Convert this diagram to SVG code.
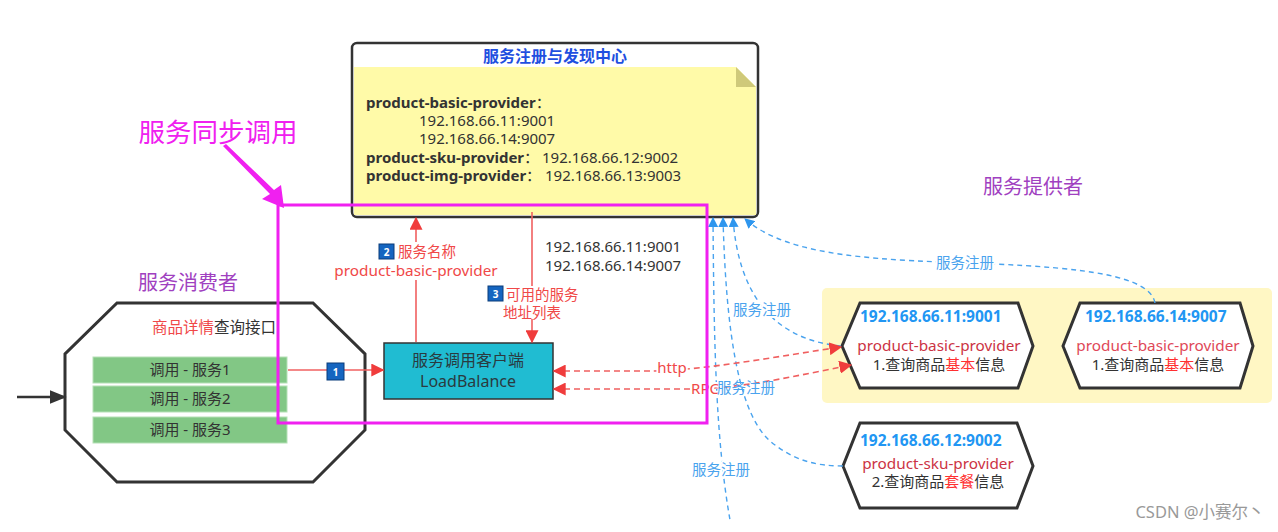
<svg xmlns="http://www.w3.org/2000/svg" width="1278" height="532" viewBox="0 0 1278 532">
<style>
text{font-family:"Noto Sans","Noto Sans CJK SC",sans-serif;}
.t14{font-size:15px;fill:#333;}
.bold{font-weight:bold;}
.grp{font-size:20px;fill:#a040c0;}
.rl{stroke:#f06060;stroke-width:1.6;fill:none;}
.rd{stroke:#f06060;stroke-width:1.6;fill:none;stroke-dasharray:6,4;}
.bd{stroke:#4aa3ee;stroke-width:1.4;fill:none;stroke-dasharray:5,4;}
.lbl{font-size:14.5px;fill:#4aa3ee;stroke:#fff;stroke-width:4;paint-order:stroke;stroke-linejoin:round;}
.halo{stroke:#fff;stroke-width:4;paint-order:stroke;stroke-linejoin:round;}
.hex{fill:#fff;stroke:#333;stroke-width:3;stroke-linejoin:miter;}
.green{fill:#82c785;stroke:#b5e0b6;stroke-width:1;}
.badge{fill:#1565c0;stroke:#0b3c7a;stroke-width:1;}
.bnum{font-size:10px;font-weight:bold;fill:#fff;}
.ip{font-size:15.5px;font-weight:bold;fill:#2196f3;}
.pn{font-size:15.3px;text-anchor:middle;}
</style>
<defs>
<marker id="rb" viewBox="0 0 10 10" refX="9" refY="5" markerWidth="13" markerHeight="13" markerUnits="userSpaceOnUse" orient="auto-start-reverse">
<path d="M0,0 L10,5 L0,10 z" fill="#f03c3c"/>
</marker>
<marker id="ba" viewBox="0 0 10 10" refX="9" refY="5" markerWidth="10" markerHeight="10" markerUnits="userSpaceOnUse" orient="auto-start-reverse">
<path d="M0,0 L10,5 L0,10 z" fill="#2e96ee"/>
</marker>
<marker id="ka" viewBox="0 0 10 10" refX="9" refY="5" markerWidth="17" markerHeight="17" markerUnits="userSpaceOnUse" orient="auto">
<path d="M0,1 L10,5 L0,9 z" fill="#333"/>
</marker>
</defs>
<rect width="1278" height="532" fill="#fff"/>

<!-- group labels -->
<text x="218" y="142" font-size="26.5" fill="#f020f0" text-anchor="middle">服务同步调用</text>
<text class="grp" x="188" y="290" text-anchor="middle">服务消费者</text>
<text class="grp" x="1033" y="194" text-anchor="middle">服务提供者</text>

<!-- provider area background -->
<rect x="822" y="288" width="450" height="115" rx="5" fill="#fff7c4"/>

<!-- registry -->
<g id="registry">
<rect x="352" y="43" width="406" height="174" rx="5" fill="#fff" stroke="#333" stroke-width="2.5"/>
<text x="555" y="62" font-size="16" font-weight="bold" fill="#1f4fe0" text-anchor="middle">服务注册与发现中心</text>
<path d="M354,67 L736,67 L756,87 L756,215 L354,215 z" fill="#fffaa8"/>
<path d="M736,67 L736,87 L756,87 z" fill="#cfc97a"/>
<text class="t14" x="366" y="108"><tspan class="bold">product-basic-provider</tspan>：</text>
<text class="t14" x="419" y="126">192.168.66.11:9001</text>
<text class="t14" x="419" y="144">192.168.66.14:9007</text>
<text class="t14" x="366" y="163"><tspan class="bold">product-sku-provider</tspan>：<tspan x="542">192.168.66.12:9002</tspan></text>
<text class="t14" x="366" y="181"><tspan class="bold">product-img-provider</tspan>：<tspan x="545">192.168.66.13:9003</tspan></text>
</g>

<!-- consumer -->
<g id="consumer">
<path class="hex" d="M117,303 L313,303 L365,354 L365,430 L313,482 L117,482 L65,430 L65,354 z"/>
<text x="214" y="333" font-size="15.5" fill="#333" text-anchor="middle"><tspan fill="#f04848">商品详情</tspan>查询接口</text>
<rect class="green" x="93" y="357" width="194" height="26"/>
<rect class="green" x="93" y="386" width="194" height="26"/>
<rect class="green" x="93" y="417" width="194" height="26"/>
<text class="t14" x="190" y="375" text-anchor="middle">调用 - 服务1</text>
<text class="t14" x="190" y="404" text-anchor="middle">调用 - 服务2</text>
<text class="t14" x="190" y="435" text-anchor="middle">调用 - 服务3</text>
</g>

<!-- load balance client -->
<g id="lb">
<rect x="384" y="343" width="169" height="56" fill="#20bcd2" stroke="#333" stroke-width="1.5"/>
<text x="468" y="366" font-size="16" fill="#2a3a40" text-anchor="middle">服务调用客户端</text>
<text x="468" y="387" font-size="16" fill="#2a3a40" text-anchor="middle">LoadBalance</text>
</g>

<!-- providers -->
<g id="provider1">
<path class="hex" d="M860,303 L1018,303 L1033,346 L1018,388 L860,388 L842,346 z"/>
<text class="ip" x="860" y="322">192.168.66.11:9001</text>
<text class="pn" x="939" y="351" fill="#cc3344">product-basic-provider</text>
<text class="t14" x="939" y="370" text-anchor="middle">1.查询商品<tspan fill="#ff3030">基本</tspan>信息</text>
</g>
<g id="provider2">
<path class="hex" d="M1080,303 L1240,303 L1253,346 L1240,388 L1080,388 L1063,346 z"/>
<text class="ip" x="1085" y="322">192.168.66.14:9007</text>
<text class="pn" x="1158" y="351" fill="#e04858">product-basic-provider</text>
<text class="t14" x="1158" y="370" text-anchor="middle">1.查询商品<tspan fill="#ff3030">基本</tspan>信息</text>
</g>
<g id="provider3">
<path class="hex" d="M860,423 L1017,423 L1033,466 L1017,508 L860,508 L843,466 z"/>
<text class="ip" x="860" y="446">192.168.66.12:9002</text>
<text class="pn" x="938" y="469" fill="#cc3344">product-sku-provider</text>
<text class="t14" x="938" y="487" text-anchor="middle">2.查询商品<tspan fill="#ff3030">套餐</tspan>信息</text>
</g>

<!-- connectors -->
<g id="connectors">
<line x1="17" y1="397" x2="65" y2="397" stroke="#333" stroke-width="2.5" marker-end="url(#ka)"/>
<!-- 1 -->
<line class="rl" x1="288" y1="370" x2="383" y2="370" marker-end="url(#rb)"/>
<rect class="badge" x="327" y="363" width="17" height="17"/>
<text class="bnum" x="335.5" y="375.5" text-anchor="middle">1</text>
<!-- 2 -->
<line class="rl" x1="416" y1="342" x2="416" y2="280"/>
<line class="rl" x1="416" y1="242" x2="416" y2="218" marker-end="url(#rb)"/>
<rect class="badge" x="379" y="244" width="15" height="15"/>
<text class="bnum" x="386.5" y="255.5" text-anchor="middle">2</text>
<text x="398" y="256.5" font-size="14.5" fill="#f04848">服务名称</text>
<text class="pn" x="416" y="276" fill="#f04848">product-basic-provider</text>
<!-- 3 -->
<line class="rl" x1="532" y1="212" x2="532" y2="286"/>
<line class="rl" x1="532" y1="319" x2="532" y2="342" marker-end="url(#rb)"/>
<rect class="badge" x="488" y="286" width="15" height="15"/>
<text class="bnum" x="495.5" y="297.5" text-anchor="middle">3</text>
<text x="506" y="299.5" font-size="14.5" fill="#f04848">可用的服务</text>
<text x="532" y="317.5" font-size="14.5" fill="#f04848" text-anchor="middle">地址列表</text>
<text class="t14" x="545" y="252">192.168.66.11:9001</text>
<text class="t14" x="545" y="271">192.168.66.14:9007</text>

<!-- blue registration lines -->
<path class="bd" d="M713,218 C714,350 716,440 730,520" marker-start="url(#ba)"/>
<path class="bd" d="M723,218 C726,330 738,420 775,445 C795,460 815,466 843,466" marker-start="url(#ba)"/>
<path class="bd" d="M733,218 C738,290 770,340 842,346" marker-start="url(#ba)"/>
<path class="bd" d="M1155,303 C1150,275 1080,268 995,264 C880,260 790,258 745,219" marker-end="url(#ba)"/>
<text class="lbl" x="965" y="268" text-anchor="middle">服务注册</text>
<text class="lbl" x="762" y="315" text-anchor="middle">服务注册</text>
<text class="lbl" x="721" y="475" text-anchor="middle">服务注册</text>

<!-- http / RPC -->
<path class="rd" d="M554,371 L650,371 C700,371 780,356 841,347" marker-start="url(#rb)" marker-end="url(#rb)"/>
<path class="rd" d="M554,389 L690,389 C740,389 800,375 851,365" marker-start="url(#rb)" marker-end="url(#rb)"/>
<text class="halo" x="672" y="373" font-size="15" fill="#f04848" text-anchor="middle">http</text>
<text class="halo" x="705" y="394" font-size="15" fill="#f04848" text-anchor="middle">RPC</text>
<text x="746" y="393" font-size="14.5" fill="#4aa3ee" text-anchor="middle">服务注册</text>
</g>

<!-- sync call highlight -->
<g id="sync">
<rect x="278" y="205" width="429" height="218" fill="none" stroke="#f020f0" stroke-width="3"/>
<path d="M223,146 L226,144 L274,190 L281,185 L284,208 L262,199 L270,194 z" fill="#f020f0"/>
</g>

<text x="1200" y="518" font-size="16.5" fill="#999" text-anchor="middle">CSDN @小赛尔丶</text>
</svg>
